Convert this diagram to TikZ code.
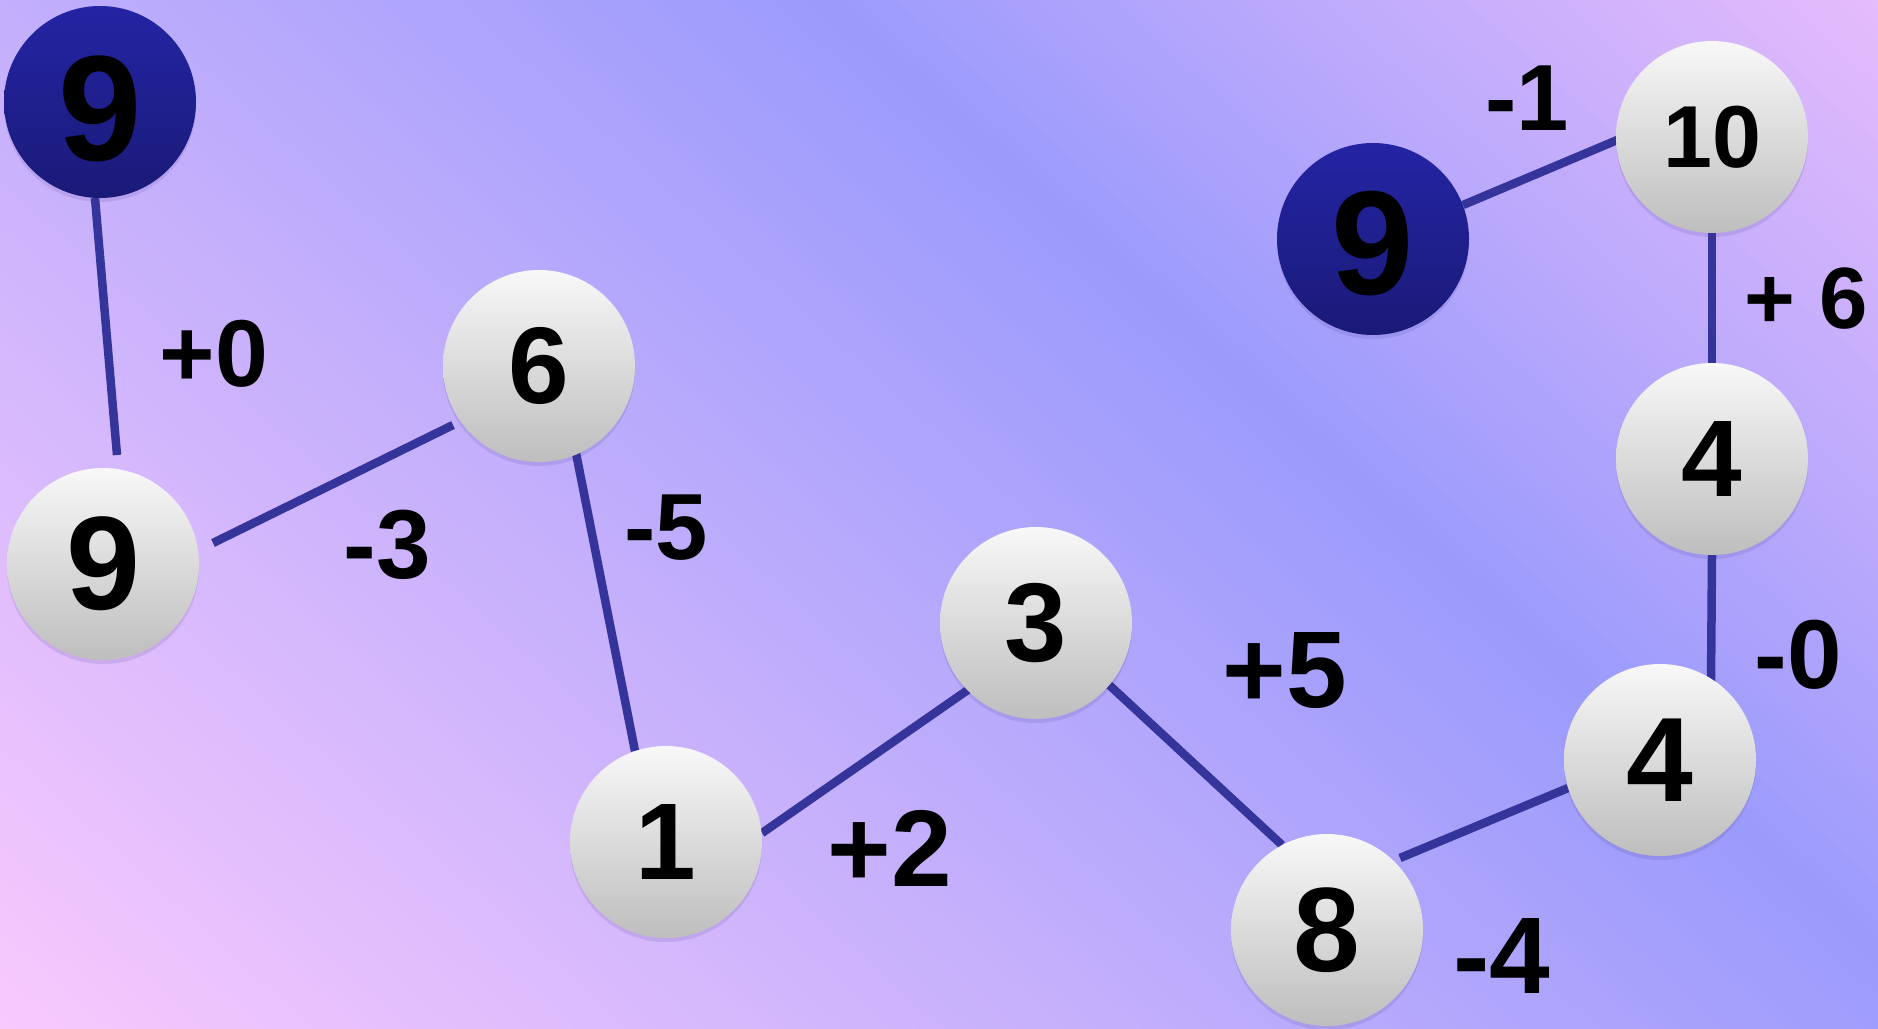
\documentclass[tikz,border=0pt]{standalone}
\usepackage{fontspec}
\setmainfont{Liberation Sans}
\usetikzlibrary{calc,shadows}
\pgfdeclarelayer{bg}
\pgfdeclarelayer{lines}
\pgfsetlayers{bg,lines,main}
\definecolor{pinkA}{HTML}{F8C9FD}
\definecolor{blueA}{HTML}{9B9BFC}
\definecolor{pinkB}{HTML}{E6BCFC}
\definecolor{ballTop}{HTML}{F8F8F8}
\definecolor{ballBot}{HTML}{BEBEBE}
\definecolor{darkTop}{HTML}{2424A4}
\definecolor{darkBot}{HTML}{1A1A78}
\definecolor{lineC}{HTML}{35349A}
\definecolor{shadowC}{HTML}{4A3A90}
\tikzset{
  fs/.style={font=\fontsize{#1}{#1}\selectfont\bfseries},
  ball/.style={circle, minimum size=192pt, inner sep=0pt, text=black,
    top color=ballTop, bottom color=ballBot,
    drop shadow={shadow xshift=0pt, shadow yshift=-4pt, shadow scale=1.0, fill=shadowC, opacity=0.14}},
  darkball/.style={ball, top color=darkTop, bottom color=darkBot},
  conn/.style={draw=lineC, line width=8.5pt},
  lbl/.style={inner sep=0pt, text=black}
}
\begin{document}
\begin{tikzpicture}[x=1pt,y=1pt]
\useasboundingbox (0,0) rectangle (1878,-1028);
% background gradient
\begin{pgfonlayer}{bg}
\begin{scope}
\clip (0,0) rectangle (1878,-1028);
\foreach \u in {-780,-770,...,1270}{
  \pgfmathtruncatemacro{\pa}{max(0,min(100,(\u+764)/13.04))}
  \pgfmathtruncatemacro{\pb}{max(0,min(100,(\u-540)/7.17))}
  \ifdim \u pt < 540pt \colorlet{sc}{blueA!\pa!pinkA}\else\colorlet{sc}{pinkB!\pb!blueA}\fi
  \fill[sc, rotate=48] (\u,-2600) rectangle (\u+11,2600);
}
\end{scope}
\end{pgfonlayer}
% nodes
\node[darkball, fs=150] (D1) at (100,-102) {\raisebox{-6pt}[\height][0pt]{9}};
\node[ball, fs=133] (W9) at (103,-564) {9};
\node[ball, fs=109] (N6) at (539,-366) {6};
\node[ball, fs=109] (N1) at (666,-842) {1};
\node[ball, fs=112] (N3) at (1036,-623) {3};
\node[ball, fs=120] (N8) at (1327,-930) {8};
\node[ball, fs=120] (N4b) at (1660,-760) {4};
\node[ball, fs=109] (N4a) at (1712,-459) {4};
\node[ball, fs=88] (N10) at (1712,-137) {10};
\node[darkball, fs=148] (D2) at (1373,-239) {\raisebox{-4pt}[\height][0pt]{9}};
% connectors
\begin{pgfonlayer}{lines}
\draw[conn] ($(D1)+(-5,-96)$) -- ($(W9)+(14,109)$);
\draw[conn] ($(W9)+(110,21)$) -- ($(N6)+(-86,-59)$);
\draw[conn] ($(N6)+(37,-87)$) -- ($(N1)+(-31,91)$);
\draw[conn] ($(N1)+(96,9)$) -- ($(N3)+(-64,-64)$);
\draw[conn] ($(N3)+(71,-60)$) -- ($(N8)+(-45,85)$);
\draw[conn] ($(N8)+(73,72)$) -- ($(N4b)+(-92,-28)$);
\draw[conn] ($(N4b)+(51,78)$) -- ($(N4a)+(0,-96)$);
\draw[conn] ($(N4a)+(0,94)$) -- ($(N10)+(0,-95)$);
\draw[conn] ($(D2)+(90,34)$) -- ($(N10)+(-90,-1)$);
\end{pgfonlayer}
% labels
\node[lbl, fs=95]  (L1) at (214,-354) {+0};
\node[lbl, fs=98]  (L2) at (387,-545) {-3};
\node[lbl, fs=94]  (L3) at (666,-528) {-5};
\node[lbl, fs=109] (L4) at (890,-848) {+2};
\node[lbl, fs=109] (L5) at (1285,-671) {+5};
\node[lbl, fs=87]  (L6) at (1806,-299) {+ 6};
\node[lbl, fs=98]  (L7) at (1798,-655) {-0};
\node[lbl, fs=109] (L8) at (1502,-956) {-4};
\node[lbl, fs=94]  (L9) at (1527,-98) {-1};
\end{tikzpicture}
\end{document}
